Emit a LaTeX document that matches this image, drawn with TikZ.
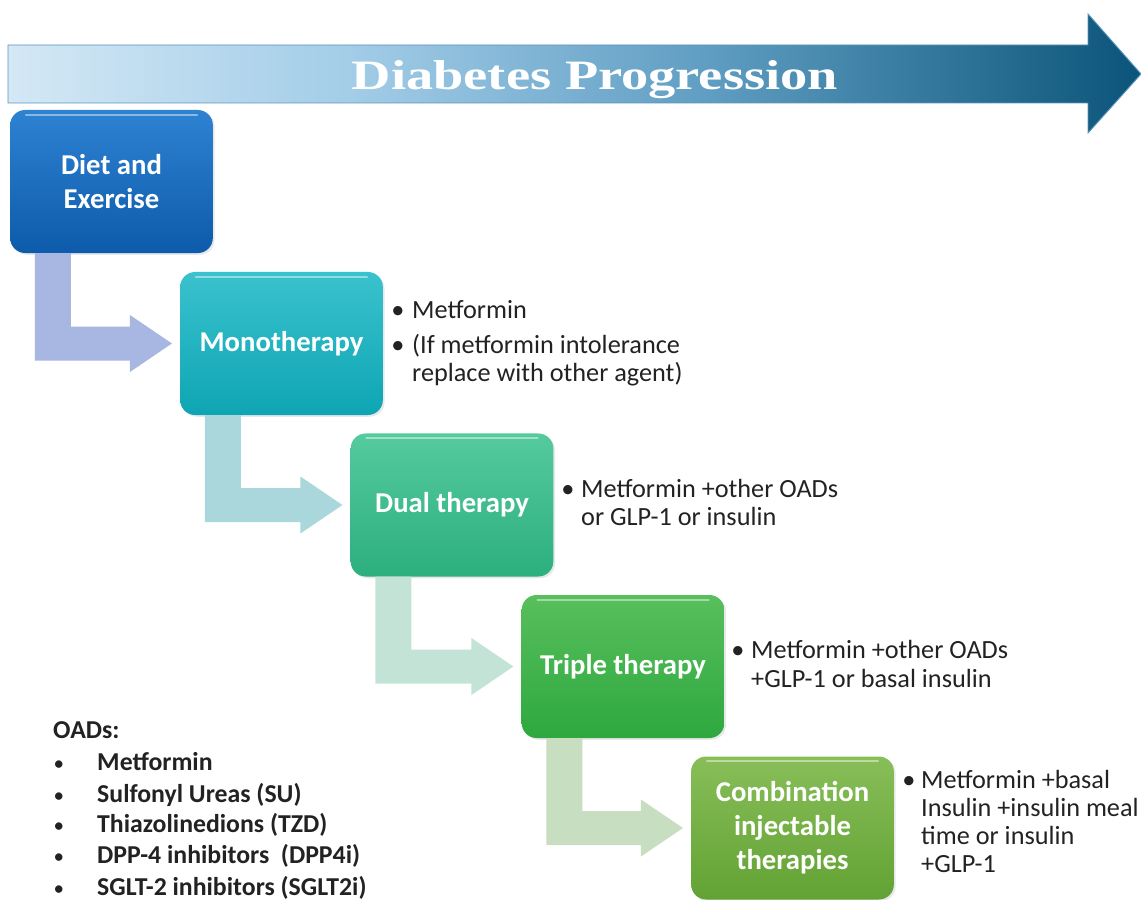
\documentclass[tikz,border=0pt]{standalone}
\usepackage{fontspec}
\setmainfont{Carlito}
\newfontfamily\titlefont{Liberation Serif}
\usetikzlibrary{calc,shadows}
\definecolor{barA}{HTML}{D4E8F5}
\definecolor{barB}{HTML}{A3CDE8}
\definecolor{barC}{HTML}{5F9DC2}
\definecolor{barD}{HTML}{0B5479}
\definecolor{barEdge}{HTML}{5C93BC}
\definecolor{bAt}{HTML}{2E82D2}\definecolor{bAb}{HTML}{0D5BAA}
\definecolor{bBt}{HTML}{3AC2CE}\definecolor{bBb}{HTML}{0EA5B3}
\definecolor{bCt}{HTML}{55CA9F}\definecolor{bCb}{HTML}{2CAF7E}
\definecolor{bDt}{HTML}{58BF5C}\definecolor{bDb}{HTML}{2EA83F}
\definecolor{bEt}{HTML}{88BE58}\definecolor{bEb}{HTML}{62A234}
\definecolor{aA}{HTML}{A7B7E2}
\definecolor{aB}{HTML}{A9D7DC}
\definecolor{aC}{HTML}{C3E3D7}
\definecolor{aD}{HTML}{C7DEC1}
\definecolor{txt}{HTML}{222222}
\pgfdeclarehorizontalshading{progbar}{100bp}{color(0bp)=(barA); color(25bp)=(barA); color(40bp)=(barB); color(56bp)=(barC); color(75bp)=(barD); color(100bp)=(barD)}
\newcommand\bentarrow[3]{%
  \coordinate (#1-s) at ($(#1.south west)+(25,0)$);
  \coordinate (#1-t) at ($(#2.west)+(-8,0)$);
  \fill[#3] (#1-s) -- ++(36,0) -- ($(#1-s |- #1-t)+(36,-17)$) -- ($(#1-t)+(-42,-17)$)
    -- ($(#1-t)+(-42,-28.5)$) -- (#1-t) -- ($(#1-t)+(-42,28.5)$) -- ($(#1-t)+(-42,17)$)
    -- ($(#1-s |- #1-t)+(0,17)$) -- cycle;}
\tikzset{
  stage/.style={rectangle, rounded corners=0.45cm, minimum width=6.08cm, minimum height=4.29cm,
    text=white, align=center, inner sep=0pt,
    font=\bfseries\fontsize{24.5}{29}\selectfont,
    drop shadow={opacity=0.18, shadow xshift=1.5pt, shadow yshift=-1.5pt}},
  side/.style={anchor=base west, inner sep=0pt, text=txt, font=\fontsize{22.4}{24}\selectfont},
  bul/.style={anchor=base, inner sep=0pt, text=txt, font=\fontsize{22.4}{24}\selectfont},
  oad/.style={anchor=base west, inner sep=0pt, text=txt, font=\bfseries\fontsize{22}{24}\selectfont},
  oadbul/.style={anchor=base, inner sep=0pt, text=txt, font=\fontsize{18}{20}\selectfont},
  gloss/.style={white, opacity=0.45, line width=1.6pt, line cap=round}
}
\begin{document}
\begin{tikzpicture}[x=0.03cm,y=-0.03cm]
\useasboundingbox (0,0) rectangle (1141,900);
% progression arrow
\path[shading=progbar, draw=barEdge, line width=0.8pt]
  (8,45) -- (1088,45) -- (1088,14) -- (1141,74) -- (1088,133) -- (1088,103) -- (8,103) -- cycle;
\node[anchor=base, inner sep=0pt, text=white] (title) at (595,90)
  {\resizebox{14.58cm}{0.87cm}{\titlefont\bfseries Diabetes Progression}};
% stages
\node[stage, top color=bAt, bottom color=bAb] (b1) at (111.5,181.5) {Diet and\\Exercise};
\node[stage, top color=bBt, bottom color=bBb] (b2) at (281.5,343.5) {Monotherapy};
\node[stage, top color=bCt, bottom color=bCb] (b3) at (452,505) {Dual therapy};
\node[stage, top color=bDt, bottom color=bDb] (b4) at (623,666.5) {Triple therapy};
\node[stage, top color=bEt, bottom color=bEb] (b5) at (792.5,828) {Combination\\injectable\\therapies};
\foreach \b in {b1,b2,b3,b4,b5}{
  \draw[gloss] ($(\b.north west)+(16,5)$) -- ($(\b.north east)+(-16,5)$);
}
% bent arrows
\bentarrow{b1}{b2}{aA}
\bentarrow{b2}{b3}{aB}
\bentarrow{b3}{b4}{aC}
\bentarrow{b4}{b5}{aD}
% side texts
\node[bul] (m1b) at (398,318) {•};
\node[side] (m1) at (412,318) {Metformin};
\node[bul] (m2b) at (398,353) {•};
\node[side] (m2) at (412,353) {(If metformin intolerance};
\node[side] (m3) at (412,381) {replace with other agent)};
\node[bul] (d1b) at (568,497) {•};
\node[side] (d1) at (581,497) {Metformin +other OADs};
\node[side] (d2) at (581,525) {or GLP-1 or insulin};
\node[bul] (t1b) at (738,658) {•};
\node[side] (t1) at (751,658) {Metformin +other OADs};
\node[side] (t2) at (751,687) {+GLP-1 or basal insulin};
\node[bul] (c1b) at (909,788) {•};
\node[side] (c1) at (921,788) {Metformin +basal};
\node[side] (c2) at (921,816) {Insulin +insulin meal};
\node[side] (c3) at (921,844) {time or insulin};
\node[side] (c4) at (921,872) {+GLP-1};
% OADs
\node[oad] (o0) at (53,738) {OADs:};
\foreach \y/\t [count=\i] in {770/Metformin, 802/Sulfonyl Ureas (SU), 832/Thiazolinedions (TZD), 863/{DPP-4 inhibitors\ \ (DPP4i)}, 895/SGLT-2 inhibitors (SGLT2i)}{
  \node[oadbul] (ob\i) at (59,\y) {•};
  \node[oad] (o\i) at (97,\y) {\t};
}
\end{tikzpicture}
\end{document}
